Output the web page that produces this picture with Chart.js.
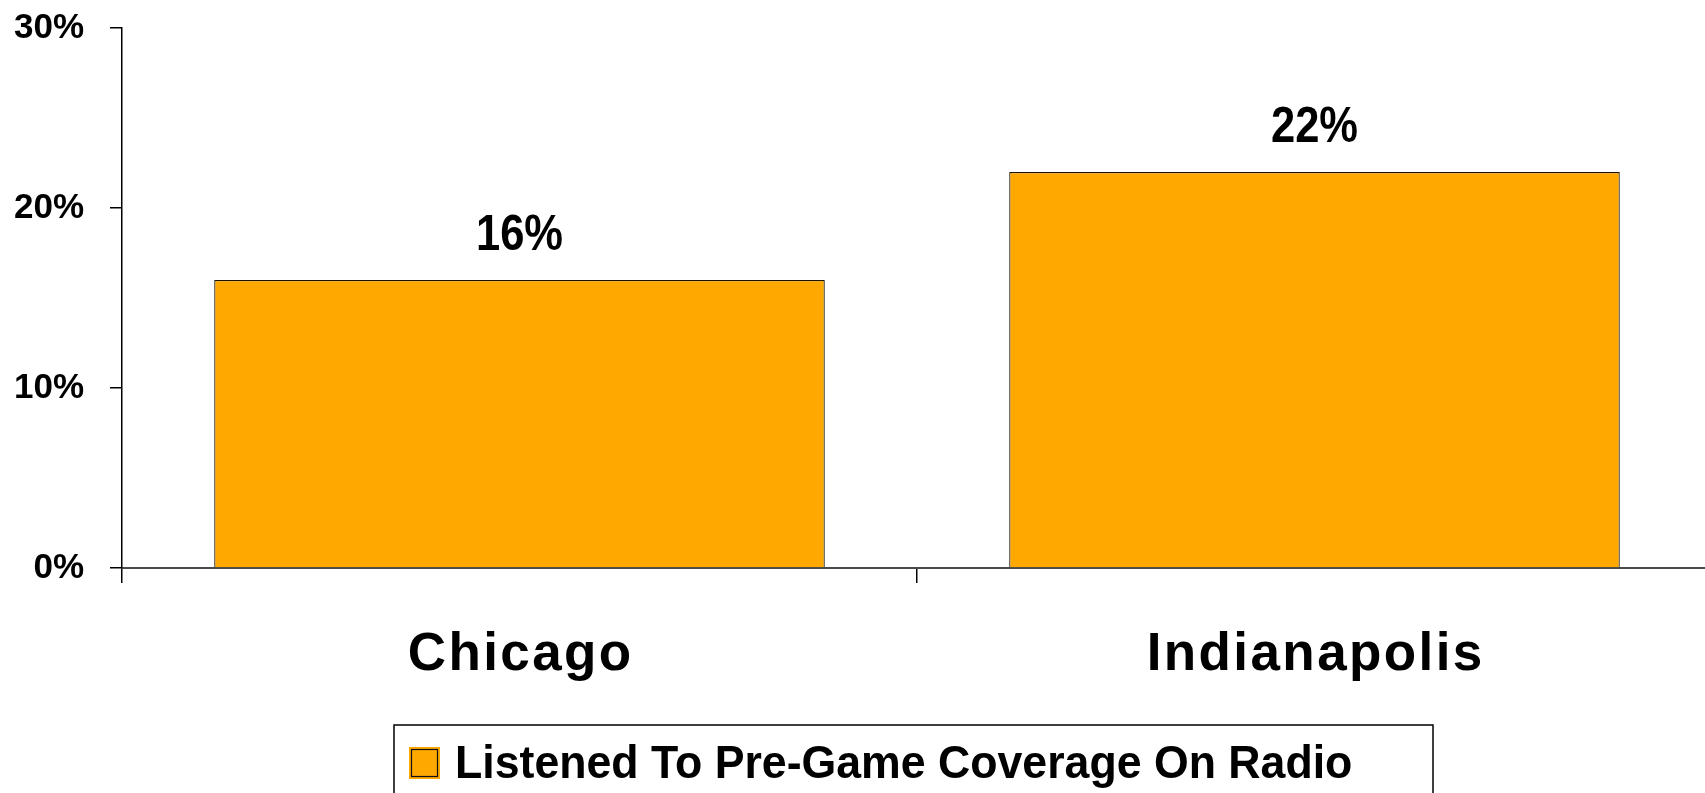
<!DOCTYPE html>
<html>
<head>
<meta charset="utf-8">
<title>Pre-Game Radio Coverage</title>
<script src="https://cdn.jsdelivr.net/npm/chart.js@4.4.1/dist/chart.umd.min.js"></script>
<style>
    html, body { margin: 0; padding: 0; background: #fff; overflow: hidden; }
    #wrap { width: 1712px; height: 793px; }
</style>
</head>
<body>
<div id="wrap">
    <canvas id="barChart" width="1712" height="793"></canvas>
</div>
<script>
// Data
const cities = ['Chicago', 'Indianapolis'];
const listenedPreGame = [16, 22];
const seriesLabel = 'Listened To Pre-Game Coverage On Radio';
const yTicks = [0, 10, 20, 30];

const barColor = '#FFA800';
const fontFamily = "'Liberation Sans', Arial, Helvetica, sans-serif";

// Value labels above each bar, slightly condensed
const valueLabels = {
    id: 'valueLabels',
    afterDatasetsDraw(chart) {
        const ctx = chart.ctx;
        const meta = chart.getDatasetMeta(0);
        ctx.save();
        ctx.fillStyle = '#000';
        ctx.font = 'bold 50px ' + fontFamily;
        ctx.textAlign = 'center';
        ctx.textBaseline = 'alphabetic';
        meta.data.forEach((bar, i) => {
            const text = Math.round(chart.data.datasets[0].data[i]) + '%';
            ctx.save();
            ctx.translate(bar.x, bar.y - 30);
            ctx.scale(0.87, 1);
            ctx.fillText(text, 0, 0);
            ctx.restore();
        });
        ctx.restore();
    }
};

// Category names under the axis, letter spaced
const cityLabels = {
    id: 'cityLabels',
    afterDraw(chart) {
        const ctx = chart.ctx;
        const xScale = chart.scales.x;
        const spacing = 2.4;
        ctx.save();
        ctx.fillStyle = '#000';
        ctx.font = 'bold 53px ' + fontFamily;
        ctx.textAlign = 'center';
        ctx.textBaseline = 'alphabetic';
        ctx.letterSpacing = spacing + 'px';
        chart.data.labels.forEach((label, i) => {
            const x = xScale.getPixelForValue(i);
            ctx.fillText(label, x + spacing / 2, xScale.top + 102);
        });
        ctx.restore();
    }
};

// Boxed legend below the categories
const boxLegend = {
    id: 'boxLegend',
    afterDraw(chart) {
        const ctx = chart.ctx;
        const ds = chart.data.datasets[0];
        const left = 394, top = 725, right = 1433;
        ctx.save();
        ctx.strokeStyle = '#000';
        ctx.lineWidth = 1.5;
        ctx.strokeRect(left, top, right - left, 120);

        // swatch
        ctx.fillStyle = ds.backgroundColor;
        ctx.fillRect(409, 747, 31, 32);
        ctx.strokeStyle = '#111';
        ctx.lineWidth = 1.2;
        ctx.strokeRect(411.5, 749.5, 26, 27);

        // text
        ctx.fillStyle = '#000';
        ctx.font = 'bold 47px ' + fontFamily;
        ctx.textAlign = 'left';
        ctx.textBaseline = 'alphabetic';
        ctx.translate(455, 778);
        ctx.scale(0.95, 1);
        ctx.fillText(ds.label, 0, 0);
        ctx.restore();
    }
};

const ctx = document.getElementById('barChart').getContext('2d');
new Chart(ctx, {
    type: 'bar',
    data: {
        labels: cities,
        datasets: [{
            label: seriesLabel,
            data: listenedPreGame,
            backgroundColor: barColor,
            borderColor: '#1a1400',
            borderWidth: 1.2,
            borderSkipped: 'bottom',
            barPercentage: 0.768,
            categoryPercentage: 1.0
        }]
    },
    options: {
        responsive: false,
        animation: false,
        devicePixelRatio: 1,
        layout: { padding: { top: 28, left: 0, right: 0, bottom: 0 } },
        plugins: {
            legend: { display: false },
            tooltip: { enabled: false }
        },
        scales: {
            x: {
                offset: true,
                afterFit(scale) {
                    scale.height = 225;
                    scale.paddingLeft = 0;
                    scale.paddingRight = 0;
                },
                border: { display: true, color: '#4a4a4a', width: 2 },
                grid: {
                    offset: true,
                    drawOnChartArea: false,
                    drawTicks: true,
                    tickLength: 15,
                    color: '#000',
                    lineWidth: 1.5
                },
                ticks: { display: false }
            },
            y: {
                min: 0,
                max: 30,
                afterFit(scale) {
                    scale.width = 122;
                    scale.paddingTop = 0;
                    scale.paddingBottom = 0;
                },
                afterBuildTicks(scale) {
                    scale.ticks = yTicks.map(v => ({ value: v }));
                },
                border: { display: true, color: '#000', width: 1.5 },
                grid: {
                    drawOnChartArea: false,
                    drawTicks: true,
                    tickLength: 12,
                    color: '#000',
                    lineWidth: 1.5
                },
                ticks: {
                    padding: 26,
                    color: '#000',
                    font: { family: fontFamily, size: 35, weight: 'bold' },
                    callback: v => v + '%'
                }
            }
        }
    },
    plugins: [valueLabels, cityLabels, boxLegend]
});
</script>
</body>
</html>
